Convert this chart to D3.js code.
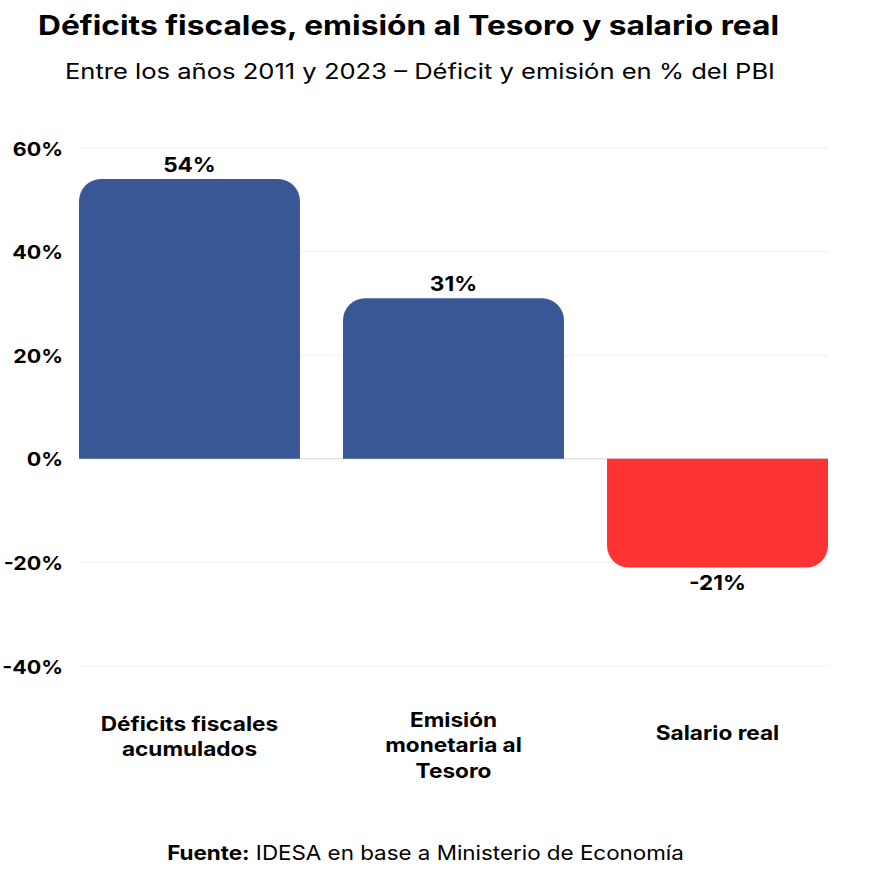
<!DOCTYPE html>
<html><head><meta charset="utf-8">
<script src="https://cdn.jsdelivr.net/npm/d3@7"></script>
<style>
body{margin:0;background:#fff;}
text{font-family:Inter,"Noto Sans",sans-serif;fill:#000;}
</style></head>
<body><svg id="c" width="880" height="882"></svg>
<script>
const categories = ["Déficits fiscales acumulados","Emisión monetaria al Tesoro","Salario real"];
const categoryLines = [["Déficits fiscales","acumulados"],["Emisión","monetaria al","Tesoro"],["Salario real"]];
const values = [54, 31, -21];
const yTicks = [-40, -20, 0, 20, 40, 60];
const colors = ["#3a5795","#3a5795","#ff3333"];

const SX = 1.13; // horizontal stretch to mimic the wide reference typeface
const svg = d3.select("#c");
const x = d3.scaleBand().domain(categories).range([79, 828]).paddingInner(0.163).paddingOuter(0);
const y = d3.scaleLinear().domain([-40, 60]).range([666, 148]);

svg.append("text").attr("x", 38).attr("y", 35).attr("font-size", 27).attr("font-weight", 700)
  .attr("textLength", 741).attr("lengthAdjust","spacingAndGlyphs")
  .text("Déficits fiscales, emisión al Tesoro y salario real");
svg.append("text").attr("x", 65).attr("y", 79).attr("font-size", 21).attr("font-weight", 400)
  .attr("textLength", 710).attr("lengthAdjust","spacingAndGlyphs")
  .text("Entre los años 2011 y 2023 – Déficit y emisión en % del PBI");

// gridlines
svg.append("g").selectAll("line").data(yTicks).join("line")
  .attr("x1", 79).attr("x2", 828)
  .attr("y1", d => y(d)).attr("y2", d => y(d))
  .attr("stroke", d => d === 0 ? "#d8d8d8" : "#f0f0f0").attr("stroke-width", 1);

// y tick labels
svg.append("g").selectAll("text").data(yTicks).join("text")
  .attr("transform", d => `translate(63,${y(d) + 7.5}) scale(${SX},1)`)
  .attr("text-anchor", "end").attr("font-size", 19).attr("font-weight", 700)
  .text(d => d + "%");

function barPath(x0, w, yBase, yEnd, r) {
  const p = d3.path();
  const up = yEnd < yBase;
  r = Math.min(r, Math.abs(yBase - yEnd), w/2);
  const s = up ? 1 : -1;
  p.moveTo(x0, yBase);
  p.lineTo(x0, yEnd + s*r);
  p.arcTo(x0, yEnd, x0 + r, yEnd, r);
  p.lineTo(x0 + w - r, yEnd);
  p.arcTo(x0 + w, yEnd, x0 + w, yEnd + s*r, r);
  p.lineTo(x0 + w, yBase);
  p.closePath();
  return p.toString();
}

svg.append("g").selectAll("path").data(values).join("path")
  .attr("d", (d, i) => barPath(x(categories[i]), x.bandwidth(), y(0), y(d), 22))
  .attr("fill", (d, i) => colors[i]);

svg.append("g").selectAll("text").data(values).join("text")
  .attr("transform", (d, i) => `translate(${x(categories[i]) + x.bandwidth()/2},${d >= 0 ? y(d) - 7 : y(d) + 22}) scale(${SX},1)`)
  .attr("text-anchor","middle").attr("font-size", 20).attr("font-weight", 700)
  .text(d => d + "%");

// x labels
const firstBaseline = {1: 740, 2: 731, 3: 727};
const xl = svg.append("g");
categoryLines.forEach((lines, i) => {
  const cx = x(categories[i]) + x.bandwidth()/2;
  const lh = 25.5;
  const t = xl.append("text").attr("transform", `translate(${cx},${firstBaseline[lines.length]}) scale(${SX},1)`)
    .attr("text-anchor","middle").attr("font-size", 20).attr("font-weight", 700);
  lines.forEach((l, j) => t.append("tspan").attr("x", 0).attr("y", j * lh).text(l));
});

// footer
const f = svg.append("text").attr("transform", `translate(425.5,860) scale(1.12,1)`)
  .attr("text-anchor","middle").attr("font-size", 20);
f.append("tspan").attr("font-weight", 700).text("Fuente:");
f.append("tspan").text(" IDESA en base a Ministerio de Economía");
</script></body></html>
